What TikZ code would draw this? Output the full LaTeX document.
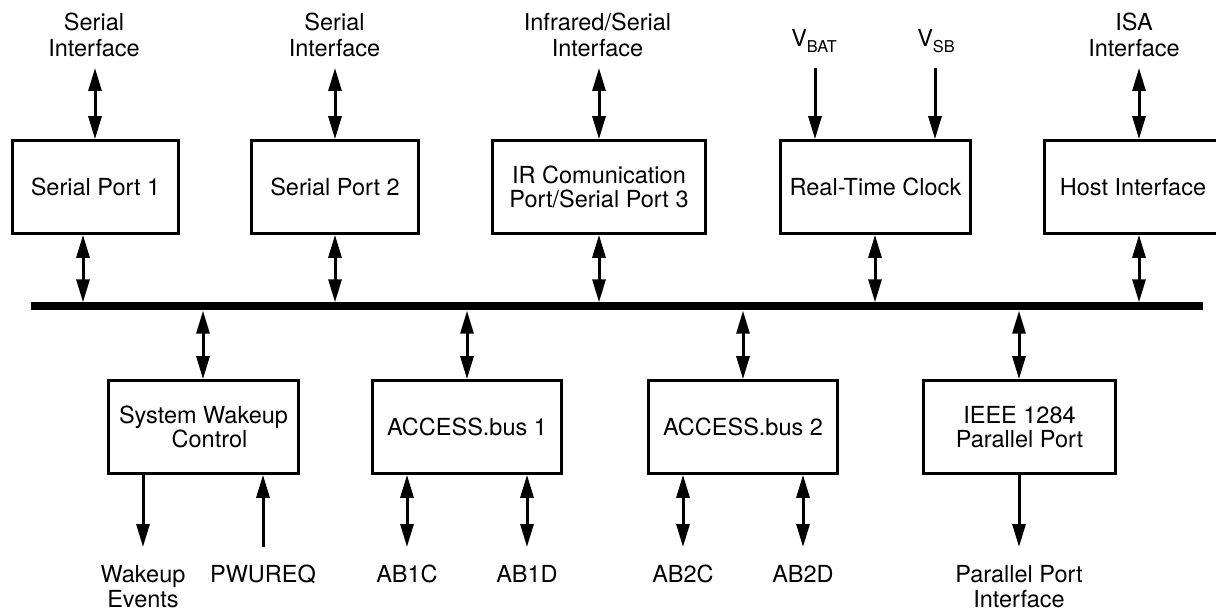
\documentclass[tikz,border=0pt]{standalone}
\usepackage{fontspec}
\setmainfont{TeX Gyre Heros}
\usetikzlibrary{arrows.meta}
\begin{document}
\begin{tikzpicture}[x=1pt,y=-1pt,
  blk/.style={draw, line width=2.7pt, minimum width=#1, minimum height=93pt, inner sep=0pt, align=center, font=\fontsize{23.5}{24}\selectfont},
  lbl/.style={inner sep=0pt, align=center, font=\fontsize{23.5}{25.5}\selectfont},
  tip/.tip={Triangle[length=23pt,width=13pt]},
  bi/.style={line width=3pt, {tip}-{tip}},
  uni/.style={line width=3pt, -{tip}}]
\useasboundingbox (0,0) rectangle (1216,612);

% bus
\node[fill=black, inner sep=0pt, minimum width=1172pt, minimum height=8pt] (bus) at (617,306.5) {};

% top blocks
\node[blk=166pt] (sp1) at (95.5,187) {Serial Port 1};
\node[blk=167pt] (sp2) at (335,187) {Serial Port 2};
\node[blk=213pt] (ir)  at (599,187) {IR Comunication\\Port/Serial Port 3};
\node[blk=190pt] (rtc) at (875.5,187) {Real-Time Clock};
\node[blk=173.5pt] (host) at (1131,187) {\hspace*{4pt}Host Interface};

% bottom blocks
\node[blk=190pt] (swc)  at (203.5,427) {System Wakeup\\\hspace*{12pt}Control};
\node[blk=189pt] (ab1)  at (467,427) {ACCESS.bus 1};
\node[blk=189pt] (ab2)  at (743,427) {ACCESS.bus 2};
\node[blk=192pt] (ieee) at (1019.5,427) {IEEE 1284\\Parallel Port};

% top labels
\node[lbl, anchor=north] (l1) at (94,13) {Serial\\Interface};
\node[lbl, anchor=north] (l2) at (334.5,13) {Serial\\Interface};
\node[lbl, anchor=north] (l3) at (597.5,13) {Infrared/Serial\\Interface};
\node[lbl, anchor=base] (vbat) at (814,47) {V\raisebox{-5.3pt}{\fontsize{16.3}{16}\selectfont BAT}};
\node[lbl, anchor=base] (vsb) at (936,47) {V\raisebox{-5.3pt}{\fontsize{16.3}{16}\selectfont SB}};
\node[lbl, anchor=north] (l6) at (1134,13) {ISA\\Interface};

% bottom labels
\node[lbl, anchor=north] (b1) at (143,565) {Wakeup\\Events};
\node[lbl, anchor=base] (b2) at (263,582) {PWUREQ};
\node[lbl, anchor=base] (b3) at (407,582) {AB1C};
\node[lbl, anchor=base] (b4) at (527,582) {AB1D};
\node[lbl, anchor=base] (b5) at (683,582) {AB2C};
\node[lbl, anchor=base] (b6) at (803,582) {AB2D};
\node[lbl, anchor=north] (b7) at (1019,565) {Parallel Port\\Interface};

% connector end points
\coordinate (t1) at (95,68);
\coordinate (t2) at (335,68);
\coordinate (t3) at (599,68);
\coordinate (t4) at (815,68);
\coordinate (t5) at (935,68);
\coordinate (t6) at (1139,68);
\coordinate (j1) at (83,0);
\coordinate (j2) at (335,0);
\coordinate (j3) at (599,0);
\coordinate (j4) at (875,0);
\coordinate (j5) at (1139,0);
\coordinate (k1) at (203,0);
\coordinate (k2) at (467,0);
\coordinate (k3) at (743,0);
\coordinate (k4) at (1019,0);
\coordinate (e1) at (143,547);
\coordinate (e2) at (263,547);
\coordinate (e3) at (407,547);
\coordinate (e4) at (527,547);
\coordinate (e5) at (683,547);
\coordinate (e6) at (803,547);
\coordinate (e7) at (1019,547);

% top external connectors
\draw[bi] (t1) -- (t1 |- sp1.north);
\draw[bi] (t2) -- (t2 |- sp2.north);
\draw[bi] (t3) -- (t3 |- ir.north);
\draw[uni] (t4) -- (t4 |- rtc.north);
\draw[uni] (t5) -- (t5 |- rtc.north);
\draw[bi] (t6) -- (t6 |- host.north);

% top blocks to bus
\draw[bi] (j1 |- sp1.south) -- (j1 |- bus.north);
\draw[bi] (j2 |- sp2.south) -- (j2 |- bus.north);
\draw[bi] (j3 |- ir.south) -- (j3 |- bus.north);
\draw[bi] (j4 |- rtc.south) -- (j4 |- bus.north);
\draw[bi] (j5 |- host.south) -- (j5 |- bus.north);

% bus to bottom blocks
\draw[bi] (k1 |- bus.south) -- (k1 |- swc.north);
\draw[bi] (k2 |- bus.south) -- (k2 |- ab1.north);
\draw[bi] (k3 |- bus.south) -- (k3 |- ab2.north);
\draw[bi] (k4 |- bus.south) -- (k4 |- ieee.north);

% bottom external connectors
\draw[uni] (e1 |- swc.south) -- (e1);
\draw[uni] (e2) -- (e2 |- swc.south);
\draw[bi] (e3 |- ab1.south) -- (e3);
\draw[bi] (e4 |- ab1.south) -- (e4);
\draw[bi] (e5 |- ab2.south) -- (e5);
\draw[bi] (e6 |- ab2.south) -- (e6);
\draw[uni] (e7 |- ieee.south) -- (e7);
\end{tikzpicture}
\end{document}
